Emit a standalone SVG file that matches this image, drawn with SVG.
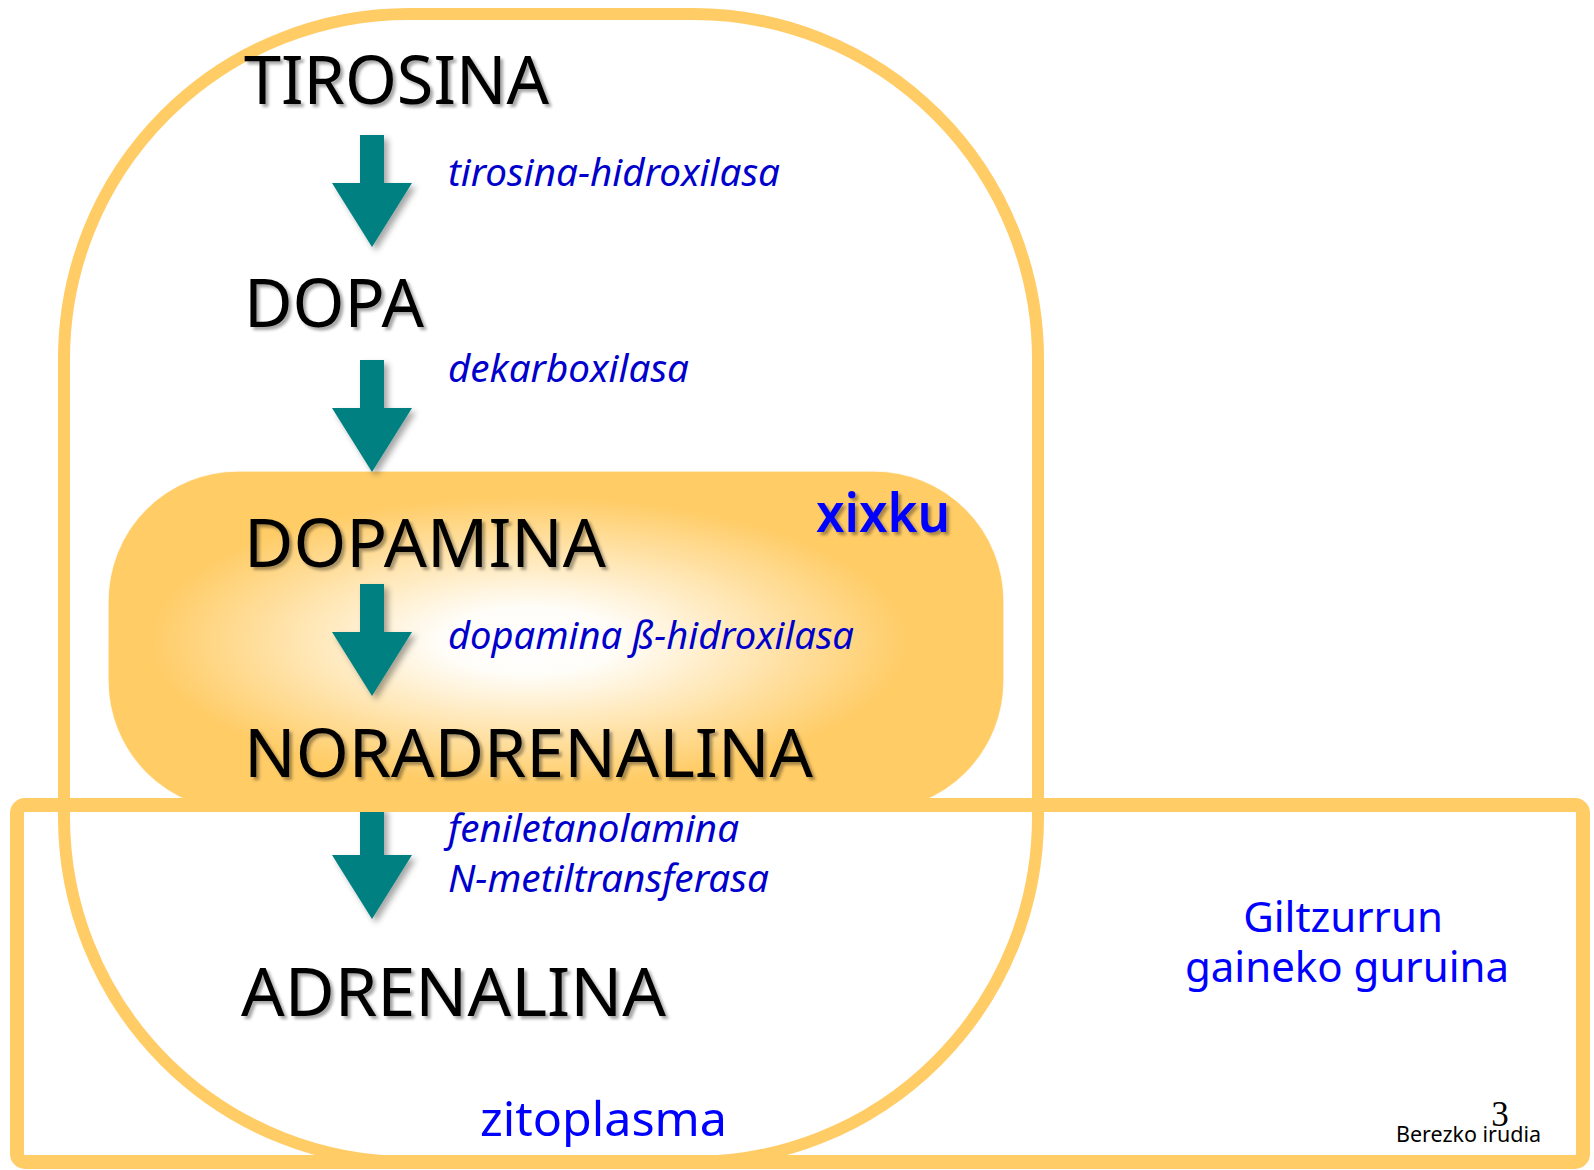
<svg xmlns="http://www.w3.org/2000/svg" width="1594" height="1170" viewBox="0 0 1594 1170">
<style>
.box{fill:none;stroke:#FFCC66}
.mol{font-family:"Noto Sans","Open Sans",sans-serif;font-size:67px;fill:#000;filter:url(#tsh)}
.enz{font-family:"Noto Sans","Open Sans",sans-serif;font-style:italic;font-size:38px;fill:#0000CC}
.lbl{font-family:"Noto Sans","Open Sans",sans-serif;fill:#0000FF}
.arrow{fill:#008080;filter:url(#ash)}
</style>
<defs>
<radialGradient id="vesGrad" cx="0.47" cy="0.5" r="0.5">
<stop offset="0" stop-color="#FFFFFF"/>
<stop offset="0.2" stop-color="#FFFDF8"/>
<stop offset="0.85" stop-color="#FFCC66"/>
<stop offset="1" stop-color="#FFCC66"/>
</radialGradient>
<filter id="tsh" x="-10%" y="-20%" width="130%" height="150%">
<feDropShadow dx="3" dy="3" stdDeviation="1.5" flood-color="#000" flood-opacity="0.35"/>
</filter>
<filter id="ash" x="-30%" y="-20%" width="160%" height="150%">
<feDropShadow dx="4" dy="4" stdDeviation="3" flood-color="#000" flood-opacity="0.35"/>
</filter>
<path id="arr" d="M-12,0 H12 V48 H40 L0,112 L-40,48 H-12 Z"/>
</defs>
<rect width="1594" height="1170" fill="#FFFFFF"/>

<g id="cell">
<rect class="box" x="64" y="14" width="974" height="1148" rx="345" ry="345" stroke-width="12" fill="#FFFFFF"/>
</g>

<g id="vesicle">
<rect x="108" y="471" width="896" height="340" rx="130" ry="130" fill="url(#vesGrad)" stroke="#FFFFFF" stroke-width="1.5" stroke-opacity="0.8"/>
<text class="lbl" x="816" y="532" font-size="54" font-weight="600" style="filter:url(#tsh)" textLength="134" lengthAdjust="spacingAndGlyphs">xixku</text>
</g>

<g id="connectors">
<use href="#arr" class="arrow" x="372" y="135"/>
<use href="#arr" class="arrow" x="372" y="360"/>
<use href="#arr" class="arrow" x="372" y="584"/>
<use href="#arr" class="arrow" x="372" y="807"/>
</g>

<g id="tirosina"><text class="mol" x="244" y="104" textLength="305" lengthAdjust="spacingAndGlyphs">TIROSINA</text></g>
<g id="dopa"><text class="mol" x="244" y="327" textLength="180" lengthAdjust="spacingAndGlyphs">DOPA</text></g>
<g id="dopamina"><text class="mol" x="244" y="567" textLength="362" lengthAdjust="spacingAndGlyphs">DOPAMINA</text></g>
<g id="noradrenalina"><text class="mol" x="244" y="777" textLength="569" lengthAdjust="spacingAndGlyphs">NORADRENALINA</text></g>
<g id="adrenalina"><text class="mol" x="241" y="1016" textLength="425" lengthAdjust="spacingAndGlyphs">ADRENALINA</text></g>

<g id="enzymes">
<text class="enz" x="448" y="186" textLength="332" lengthAdjust="spacingAndGlyphs">tirosina-hidroxilasa</text>
<text class="enz" x="448" y="382" textLength="241" lengthAdjust="spacingAndGlyphs">dekarboxilasa</text>
<text class="enz" x="448" y="649" textLength="406" lengthAdjust="spacingAndGlyphs">dopamina ß-hidroxilasa</text>
<text class="enz" x="448" y="842" textLength="291" lengthAdjust="spacingAndGlyphs">feniletanolamina</text>
<text class="enz" x="448" y="892" textLength="321" lengthAdjust="spacingAndGlyphs">N-metiltransferasa</text>
</g>

<g id="gland">
<rect class="box" x="17" y="805" width="1566" height="357" rx="8" ry="8" stroke-width="14"/>
<text class="lbl" x="1343" y="932" font-size="42" text-anchor="middle">Giltzurrun</text>
<text class="lbl" x="1347" y="982" font-size="42" text-anchor="middle">gaineko guruina</text>
</g>

<g id="cytoplasm-label">
<text class="lbl" x="480" y="1136" font-size="48" textLength="247" lengthAdjust="spacingAndGlyphs">zitoplasma</text>
</g>

<g id="footer">
<text x="1500" y="1126" font-family="'Liberation Serif',serif" font-size="35" text-anchor="middle" fill="#000">3</text>
<text x="1396" y="1142" font-family="'Noto Sans','Open Sans',sans-serif" font-size="21.5" fill="#000" textLength="145" lengthAdjust="spacingAndGlyphs">Berezko irudia</text>
</g>
</svg>
